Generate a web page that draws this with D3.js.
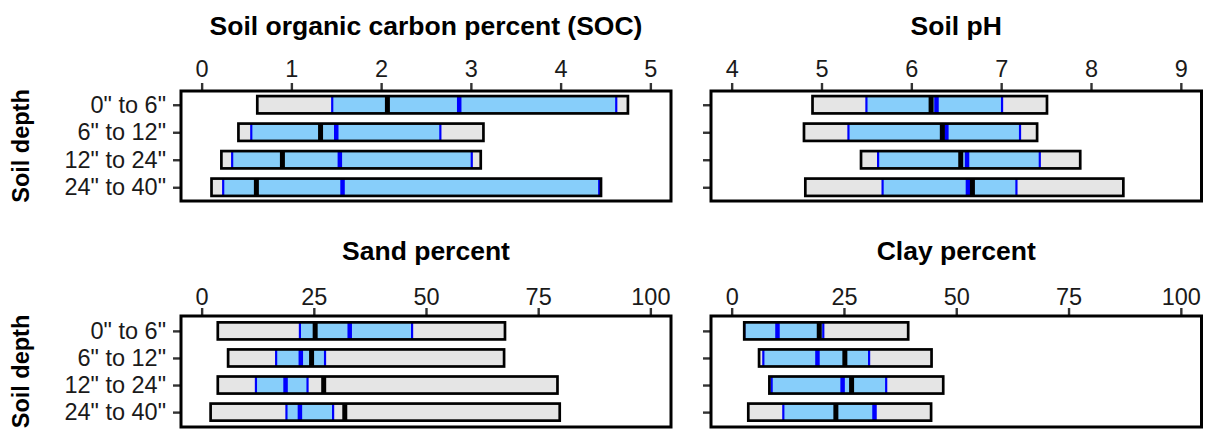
<!DOCTYPE html>
<html>
<head>
<meta charset="utf-8">
<script src="https://cdn.jsdelivr.net/npm/d3@7/dist/d3.min.js"></script>
<style>
  body { margin: 0; background: #fff; }
  svg { display: block; font-family: "Liberation Sans", Arial, sans-serif; }
</style>
</head>
<body>
<div id="chart-wrapper"></div>
<script>
// Data
const depths = ['0" to 6"', '6" to 12"', '12" to 24"', '24" to 40"'];

const socMin = [0.62, 0.41, 0.22, 0.11];
const socMax = [4.75, 3.14, 3.11, 4.45];
const socLow = [1.455, 0.553, 0.34, 0.24];
const socHigh = [4.62, 2.66, 3.01, 4.43];
const socMedian = [2.07, 1.325, 0.9, 0.61];
const socMean = [2.87, 1.5, 1.54, 1.57];

const phMin = [4.9, 4.805, 5.44, 4.82];
const phMax = [7.51, 7.4, 7.88, 8.36];
const phLow = [5.5, 5.3, 5.63, 5.68];
const phHigh = [7.01, 7.21, 7.43, 7.17];
const phMedian = [6.22, 6.345, 6.55, 6.68];
const phMean = [6.28, 6.39, 6.62, 6.63];

const sandMin = [3.6, 5.9, 3.6, 2.0];
const sandMax = [67.6, 67.4, 79.3, 79.8];
const sandLow = [21.9, 16.6, 12.1, 18.9];
const sandHigh = [46.9, 27.5, 23.6, 29.3];
const sandMedian = [25.3, 24.5, 27.2, 31.9];
const sandMean = [33.0, 22.1, 18.7, 21.9];

const clayMin = [2.8, 6.1, 8.4, 3.7];
const clayMax = [39.3, 44.5, 47.1, 44.4];
const clayLow = [2.8, 7.05, 8.9, 11.5];
const clayHigh = [20.4, 30.6, 34.4, 31.8];
const clayMedian = [19.5, 25.2, 26.7, 23.2];
const clayMean = [10.2, 19.1, 24.7, 31.8];

const socTicks = [0, 1, 2, 3, 4, 5];
const phTicks = [4, 5, 6, 7, 8, 9];
const pctTicks = [0, 25, 50, 75, 100];

const panels = [
  { title: "Soil organic carbon percent (SOC)", col: 0, row: 0, domain: [-0.23, 5.23], ticks: socTicks,
    min: socMin, max: socMax, low: socLow, high: socHigh, median: socMedian, mean: socMean },
  { title: "Soil pH", col: 1, row: 0, domain: [3.77, 9.23], ticks: phTicks,
    min: phMin, max: phMax, low: phLow, high: phHigh, median: phMedian, mean: phMean },
  { title: "Sand percent", col: 0, row: 1, domain: [-4.6, 104.6], ticks: pctTicks,
    min: sandMin, max: sandMax, low: sandLow, high: sandHigh, median: sandMedian, mean: sandMean },
  { title: "Clay percent", col: 1, row: 1, domain: [-4.6, 104.6], ticks: pctTicks,
    min: clayMin, max: clayMax, low: clayLow, high: clayHigh, median: clayMedian, mean: clayMean },
];

// Chart dimensions
const dimensions = {
  width: 1207,
  height: 429,
  cols: [[181, 671], [711, 1201.5]],
  rows: [
    { range: [91, 201], padding: 0.5, tickPadding: 6, titleY: 35 },
    { range: [316, 427], padding: 0.55, tickPadding: 3, titleY: 260 },
  ],
};

// Draw the canvas
const wrapper = d3
  .select("#chart-wrapper")
  .append("svg")
  .attr("width", dimensions.width)
  .attr("height", dimensions.height);

panels.forEach((p) => {
  const rowDims = dimensions.rows[p.row];
  const [x0, x1] = dimensions.cols[p.col];
  const [y0, y1] = rowDims.range;

  // Build the scales
  const xScale = d3.scaleLinear().domain(p.domain).range([x0, x1]);
  const yScale = d3
    .scalePoint()
    .domain(depths)
    .range([y0, y1])
    .padding(rowDims.padding);
  const barHeight = yScale.step() * 0.63;

  const g = wrapper.append("g");

  // Title
  g.append("text")
    .attr("x", (x0 + x1) / 2)
    .attr("y", rowDims.titleY)
    .attr("text-anchor", "middle")
    .style("font-size", "26.5px")
    .style("font-weight", "bold")
    .style("fill", "#000")
    .text(p.title);

  const rows = depths.map((d, i) => ({
    depth: d,
    min: p.min[i],
    max: p.max[i],
    low: p.low[i],
    high: p.high[i],
    median: p.median[i],
    mean: p.mean[i],
  }));

  const bars = g
    .selectAll(".bar")
    .data(rows)
    .enter()
    .append("g")
    .attr("class", "bar");

  const top = (d) => yScale(d.depth) - barHeight / 2;
  const bottom = (d) => yScale(d.depth) + barHeight / 2;

  // full range
  bars
    .append("rect")
    .attr("x", (d) => xScale(d.min))
    .attr("y", top)
    .attr("width", (d) => xScale(d.max) - xScale(d.min))
    .attr("height", barHeight)
    .attr("fill", "#e5e5e5");

  // inner range
  bars
    .append("rect")
    .attr("x", (d) => xScale(d.low))
    .attr("y", top)
    .attr("width", (d) => xScale(d.high) - xScale(d.low))
    .attr("height", barHeight)
    .attr("fill", "#87cefa");

  ["low", "high"].forEach((k) => {
    bars
      .append("line")
      .attr("x1", (d) => xScale(d[k]))
      .attr("x2", (d) => xScale(d[k]))
      .attr("y1", top)
      .attr("y2", bottom)
      .attr("stroke", "#0000ff")
      .attr("stroke-width", 2.2);
  });

  // mean and median
  bars
    .append("line")
    .attr("x1", (d) => xScale(d.mean))
    .attr("x2", (d) => xScale(d.mean))
    .attr("y1", top)
    .attr("y2", bottom)
    .attr("stroke", "#0000ff")
    .attr("stroke-width", 4.5);
  bars
    .append("line")
    .attr("x1", (d) => xScale(d.median))
    .attr("x2", (d) => xScale(d.median))
    .attr("y1", top)
    .attr("y2", bottom)
    .attr("stroke", "#000")
    .attr("stroke-width", 5);

  // outline
  bars
    .append("rect")
    .attr("x", (d) => xScale(d.min))
    .attr("y", top)
    .attr("width", (d) => xScale(d.max) - xScale(d.min))
    .attr("height", barHeight)
    .attr("fill", "none")
    .attr("stroke", "#000")
    .attr("stroke-width", 2.7);

  // Draw axes
  const xAxis = g
    .append("g")
    .attr("transform", `translate(0, ${y0})`)
    .call(
      d3
        .axisTop(xScale)
        .tickValues(p.ticks)
        .tickFormat(d3.format("d"))
        .tickSize(8)
        .tickPadding(rowDims.tickPadding)
    );
  const yAxisGenerator = d3.axisLeft(yScale).tickSize(8).tickPadding(7);
  if (p.col === 1) yAxisGenerator.tickFormat(() => "");
  const yAxis = g
    .append("g")
    .attr("transform", `translate(${x0}, 0)`)
    .call(yAxisGenerator);

  [xAxis, yAxis].forEach((a) => {
    a.select(".domain").remove();
    a.selectAll(".tick line").attr("stroke", "#333").attr("stroke-width", 2.4);
    a.selectAll(".tick text")
      .style("font-size", "23.5px")
      .style("font-family", '"Liberation Sans", Arial, sans-serif')
      .attr("fill", "#1a1a1a");
  });

  // panel border
  g.append("rect")
    .attr("x", x0)
    .attr("y", y0)
    .attr("width", x1 - x0)
    .attr("height", y1 - y0)
    .attr("fill", "none")
    .attr("stroke", "#000")
    .attr("stroke-width", 3);

  // y axis title
  if (p.col === 0) {
    g.append("text")
      .attr("transform", `translate(29, ${(y0 + y1) / 2}) rotate(-90)`)
      .attr("text-anchor", "middle")
      .style("font-size", "23.5px")
      .style("font-weight", "bold")
      .style("fill", "#000")
      .text("Soil depth");
  }
});
</script>
</body>
</html>
